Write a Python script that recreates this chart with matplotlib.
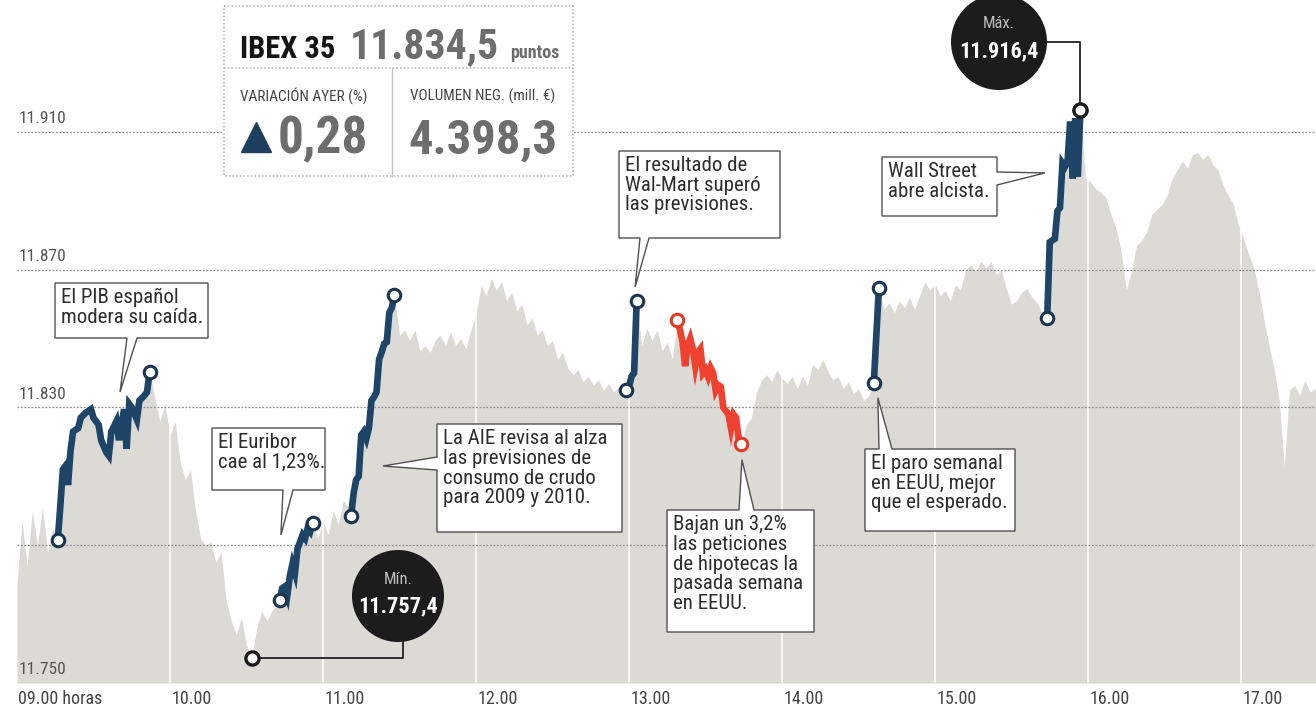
import numpy as np
import matplotlib
matplotlib.use('Agg')
import matplotlib.pyplot as plt
from matplotlib import font_manager
from matplotlib.patches import Polygon, Circle, Rectangle

# narrow newspaper-like face if one is installed
names = {f.name for f in font_manager.fontManager.ttflist}
FONT = next((n for n in ['Roboto Condensed', 'Liberation Sans Narrow', 'Open Sans Condensed']
             if n in names), 'Roboto')
plt.rcParams['font.family'] = [FONT, 'DejaVu Sans']

# IBEX 35 intraday, minutes after 09:00
minutes = [0, 2, 4, 6, 8, 10, 12, 14,
           16, 17, 18, 19, 20, 21, 22, 24, 25, 27, 29, 30, 32, 33, 35, 36, 37, 39, 40, 42, 43, 44, 45, 47, 48, 50, 51, 52,
           54, 56, 58, 60, 62, 64, 66, 68, 70, 72, 74, 76, 78, 80, 82, 84, 86, 88, 90, 92, 94, 96, 98, 100,
           103, 104, 105, 106, 107, 108, 109, 110, 111, 112, 113, 114, 115, 116,
           118, 120, 122, 124, 126, 128, 130,
           131, 132, 133, 134, 135, 136, 137, 138, 139, 140, 141, 142, 143, 144, 145, 146, 147, 148,
           150, 152, 154, 156, 158, 160, 162, 164, 166, 168, 170, 172, 174, 176, 178, 180, 182, 184, 186, 188,
           190, 192, 194, 196, 198, 200, 202, 204, 206, 208, 210, 212, 214, 216, 218, 220, 222, 224, 226, 228,
           230, 232, 234, 236,
           239, 240, 241, 242, 243,
           245, 247, 249, 251, 253, 255, 257,
           259, 260, 261, 262, 263, 264, 265, 266, 267, 268, 269, 270, 271, 272, 273, 274, 275, 276, 277, 278,
           279, 280, 281, 282, 283, 284,
           286, 288, 290, 292, 294, 296, 298, 300, 302, 304, 306, 308, 310, 312, 314, 316, 318, 320, 322, 324,
           326, 328, 330, 332, 334,
           336, 337, 338,
           340, 342, 344, 346, 348, 350, 352, 354, 356, 358, 360, 362, 364, 366, 368, 370, 372, 374, 376, 378,
           380, 382, 384, 386, 388, 390, 392, 394, 396, 398, 400, 402,
           404, 405, 406, 407, 408, 409, 410, 411, 412, 413, 414, 415, 416, 417,
           419, 421, 423, 425, 427, 429, 431, 433, 435, 437, 439, 441, 443, 445, 447, 449, 451, 453, 455, 457,
           459, 461, 463, 465, 467, 469, 471, 473, 475, 477, 479, 481, 483, 485, 487, 489, 491, 493, 495, 497,
           499, 501, 503, 505, 507, 509, 510]
levels = [11779, 11797, 11784, 11800, 11790, 11801, 11788, 11795,
          11791.5, 11801.5, 11812, 11813, 11807.5, 11817.5, 11823, 11824, 11827, 11828.5, 11829.5, 11827, 11825,
          11820.5, 11817, 11816, 11823, 11826, 11820.5, 11829.5, 11818, 11831, 11830, 11826.5, 11832, 11833.5,
          11834.5, 11840.3,
          11833, 11826, 11831, 11822, 11826, 11814, 11809, 11812, 11800, 11792, 11790, 11791, 11785, 11788,
          11774, 11768, 11764, 11769, 11761, 11757.4, 11766, 11771, 11768, 11771,
          11774, 11777.5, 11778, 11775.5, 11781, 11784.5, 11782, 11789, 11791, 11793, 11792, 11795, 11794, 11796.5,
          11792, 11797, 11793, 11800, 11796, 11803, 11801,
          11798.5, 11805, 11809, 11810, 11822, 11823, 11821, 11824, 11832, 11833, 11834.5, 11844, 11846, 11848.5,
          11849, 11857.5, 11859, 11862.7,
          11851, 11852.5, 11849.5, 11852.5, 11846.5, 11848, 11846, 11849.5, 11851, 11848, 11852, 11848, 11850,
          11847, 11852.5, 11857, 11865.5, 11862.5, 11867.5, 11864,
          11866.5, 11861, 11863.5, 11858, 11860, 11854, 11856, 11851, 11852.5, 11848, 11849.5, 11844, 11846,
          11841.5, 11839.5, 11841, 11837.5, 11839, 11836.5, 11838,
          11835, 11837, 11834.5, 11836,
          11835, 11836, 11839, 11840, 11860.8,
          11848, 11853, 11849.5, 11852.5, 11846.5, 11849, 11844,
          11855.5, 11852.5, 11849, 11842, 11848, 11850, 11847, 11842, 11846, 11847, 11840, 11841, 11839, 11841.5,
          11840, 11835, 11836.5, 11836, 11830, 11829,
          11828, 11824, 11828, 11827, 11821, 11819.5,
          11825, 11827, 11834.5, 11838, 11839.5, 11837.5, 11841, 11838.5, 11837, 11839, 11835.5, 11839, 11836.5,
          11842.5, 11841, 11844, 11840.5, 11838, 11839, 11835.5,
          11837.5, 11834, 11835.5, 11832, 11833.5,
          11837, 11851, 11864.7,
          11858.5, 11860.5, 11857.5, 11861, 11859, 11862, 11858.5, 11862.5, 11866.5, 11864, 11866, 11862.5,
          11864, 11861, 11865.5, 11864, 11870, 11871.5, 11869.5, 11872.5,
          11870.5, 11872.5, 11868.5, 11870, 11864.5, 11860, 11861, 11863.5, 11864.5, 11862, 11860.5, 11857.5,
          11856, 11878, 11878.5, 11879, 11887, 11888, 11901, 11900, 11901.5, 11913, 11896.5, 11914, 11897, 11916.4,
          11896.5, 11895.5, 11893.5, 11892.5, 11891, 11886, 11882, 11875.5, 11864, 11869.5, 11877, 11878.5,
          11881, 11886, 11887.5, 11889, 11891.5, 11896.5, 11899, 11901.5,
          11899.5, 11903.5, 11904, 11902, 11903.5, 11900.5, 11899, 11894.5, 11891.5, 11889, 11883, 11879,
          11874.5, 11870.5, 11864, 11855.5, 11848, 11841, 11832, 11813,
          11835, 11836.5, 11833.5, 11838, 11834.5, 11835.5, 11834.5]

# highlighted stretches of the session (first minute, last minute, colour)
seg_start = [16, 103, 131, 239, 259, 336, 404]
seg_end = [52, 116, 148, 243, 284, 338, 417]
seg_colour = ['#1e4468', '#1e4468', '#1e4468', '#1e4468', '#ef4130', '#1e4468', '#1e4468']

grid_levels = [11750, 11790, 11830, 11870, 11910]
label_levels = [11750, 11830, 11870, 11910]
hours = [9, 10, 11, 12, 13, 14, 15, 16, 17]

variacion = 0.28
volumen = 4398.3

notes = [
    'El PIB español\nmodera su caída.',
    'El Euribor\ncae al 1,23%.',
    'La AIE revisa al alza\nlas previsiones de\nconsumo de crudo\npara 2009 y 2010.',
    'El resultado de\nWal-Mart superó\nlas previsiones.',
    'Bajan un 3,2%\nlas peticiones\nde hipotecas la\npasada semana\nen EEUU.',
    'El paro semanal\nen EEUU, mejor\nque el esperado.',
    'Wall Street\nabre alcista.',
]
note_tip = [(40.4, 11834.5), (103.5, 11793), (143.5, 11813), (242.4, 11865),
            (284.3, 11814.8), (337.6, 11832.8), (403.1, 11898.1)]


def es(x, dec=1):
    s = f'{x:,.{dec}f}'
    return s.replace(',', ' ').replace('.', ',').replace(' ', '.')


W, H = 1316, 710
PX_MIN, PX_PT = 2.55, 3.444
fig = plt.figure(figsize=(W / 100, H / 100), dpi=100)
fig.patch.set_facecolor('white')
ax = fig.add_axes([17 / W, 27 / H, (W - 17) / W, 683 / H])
ax.set_xlim(0, (W - 17) / PX_MIN)
ax.set_ylim(11750, 11750 + 683 / PX_PT)
ax.axis('off')

t = np.array(minutes, dtype=float)
v = np.array(levels)

ax.fill_between(t, 11750, v, color='#dbdad5', lw=0, zorder=1)
for h in hours[1:]:
    ax.axvline((h - 9) * 60, color='white', lw=1.1, zorder=1.5)
for g in grid_levels:
    ax.axhline(g, color='#8a8a8a', lw=0.9, ls=(0, (1.4, 1.4)), zorder=2)
for g in label_levels:
    ax.annotate(es(g, 0), (0, g), xytext=(1, 4), textcoords='offset points',
                ha='left', va='bottom', fontsize=12.5, color='#555555', annotation_clip=False)
for h in hours:
    lab = f'{h:02d}.00' + (' horas' if h == 9 else '')
    ax.annotate(lab, ((h - 9) * 60, 11750), xytext=(1, -5), textcoords='offset points',
                ha='left', va='top', fontsize=13, color='#444444', annotation_clip=False)

for s, e, c in zip(seg_start, seg_end, seg_colour):
    m = (t >= s) & (t <= e)
    edge = '#1a3552' if c != '#ef4130' else '#e33a28'
    ax.plot(t[m], v[m], color=c, lw=4.8, solid_joinstyle='miter', solid_capstyle='butt', zorder=3)
    ax.plot([t[m][0], t[m][-1]], [v[m][0], v[m][-1]], 'o', ms=9, mfc='white', mec=edge, mew=2.2,
            zorder=4, clip_on=False)

# overlay in pixel units for boxes and callouts
ov = fig.add_axes([0, 0, 1, 1], zorder=5)
ov.set_xlim(0, W)
ov.set_ylim(H, 0)
ov.axis('off')


def to_ov(m, val):
    return ov.transData.inverted().transform(ax.transData.transform((m, val)))


# headline box
ov.add_patch(Rectangle((224, 6), 349, 170, fc='white', ec='#b0b0b0', lw=1.1, ls=(0, (1, 1.4)), zorder=1))
ov.plot([224, 573], [68, 68], color='#b0b0b0', lw=1.1, ls=(0, (1, 1.4)), zorder=2)
ov.plot([392, 392], [68, 176], color='#c4c4c4', lw=1.0, zorder=2)
ov.text(240, 58, 'IBEX 35', fontsize=22, fontweight='bold', color='#151515', va='baseline', zorder=3)
ov.text(350, 58, es(levels[-1]), fontsize=30, fontweight='bold', color='#6d6d6d', va='baseline', zorder=3)
ov.text(510, 58, 'puntos', fontsize=13, fontweight='bold', color='#6d6d6d', va='baseline', zorder=3)
ov.text(240, 101, 'VARIACIÓN AYER (%)', fontsize=11, color='#444444', va='baseline', zorder=3)
ov.text(410, 101, 'VOLUMEN NEG. (mill. €)', fontsize=11, color='#444444', va='baseline', zorder=3)
ov.plot(256, 137, marker='^', ms=22, color='#1e3f60', zorder=3)
ov.text(278, 153, es(variacion, 2), fontsize=37, fontweight='bold', color='#6d6d6d', va='baseline', zorder=3)
ov.text(408, 153, es(volumen), fontsize=35, fontweight='bold', color='#6d6d6d', va='baseline', zorder=3)

# min / max bubbles
i_min, i_max = int(np.argmin(v)), int(np.argmax(v))
mx, my = to_ov(t[i_min], v[i_min])
Mx, My = to_ov(t[i_max], v[i_max])
ov.plot([mx, 403, 403], [my, my, 638], color='#222222', lw=1.3, zorder=2)
ov.plot([1040, Mx, Mx], [42, 42, My], color='#222222', lw=1.3, zorder=2)
ov.add_patch(Circle((398, 596), 46, fc='#1c1c1c', ec='none', zorder=3))
ov.add_patch(Circle((999, 42), 48, fc='#1c1c1c', ec='none', zorder=3))
ov.text(398, 579, 'Mín.', ha='center', va='center', fontsize=12, color='#bdbdbd', zorder=4)
ov.text(398, 606, es(v[i_min]), ha='center', va='center', fontsize=16, fontweight='bold', color='white', zorder=4)
ov.text(999, 23, 'Máx.', ha='center', va='center', fontsize=12, color='#bdbdbd', zorder=4)
ov.text(999, 51, es(v[i_max]), ha='center', va='center', fontsize=16, fontweight='bold', color='white', zorder=4)
for px, py in [(mx, my), (Mx, My)]:
    ov.plot(px, py, 'o', ms=9.5, mfc='white', mec='#1a1a1a', mew=2.4, zorder=4)

# speech-bubble callouts
boxes = [(55, 283, 208, 338), (212, 428, 325, 490), (437, 424, 622, 532), (619, 151, 780, 238),
         (667, 510, 814, 632), (865, 449, 1015, 531), (882, 157, 997, 216)]
sides = ['bottom', 'bottom', 'left', 'bottom', 'top', 'top', 'right']
bases = [(127, 137), (283, 293), (457, 470), (640, 649), (739, 754), (879, 892), (172, 185)]

for text, (x0, y0, x1, y1), side, (b0, b1), tip in zip(notes, boxes, sides, bases, note_tip):
    tx, ty = to_ov(*tip)
    if side == 'bottom':
        pts = [(x0, y0), (x1, y0), (x1, y1), (b1, y1), (tx, ty), (b0, y1), (x0, y1)]
    elif side == 'top':
        pts = [(x0, y0), (b0, y0), (tx, ty), (b1, y0), (x1, y0), (x1, y1), (x0, y1)]
    elif side == 'left':
        pts = [(x0, y0), (x1, y0), (x1, y1), (x0, y1), (x0, b1), (tx, ty), (x0, b0)]
    else:
        pts = [(x0, y0), (x1, y0), (x1, b0), (tx, ty), (x1, b1), (x1, y1), (x0, y1)]
    ov.add_patch(Polygon(pts, closed=True, fc='white', ec='#505050', lw=1.0, joinstyle='miter', zorder=2))
    ov.text(x0 + 6, y0 + 5, text, ha='left', va='top', fontsize=15, linespacing=1.05,
            color='#2e2e2e', zorder=3)

fig.savefig('out.png', dpi=100, facecolor='white')
